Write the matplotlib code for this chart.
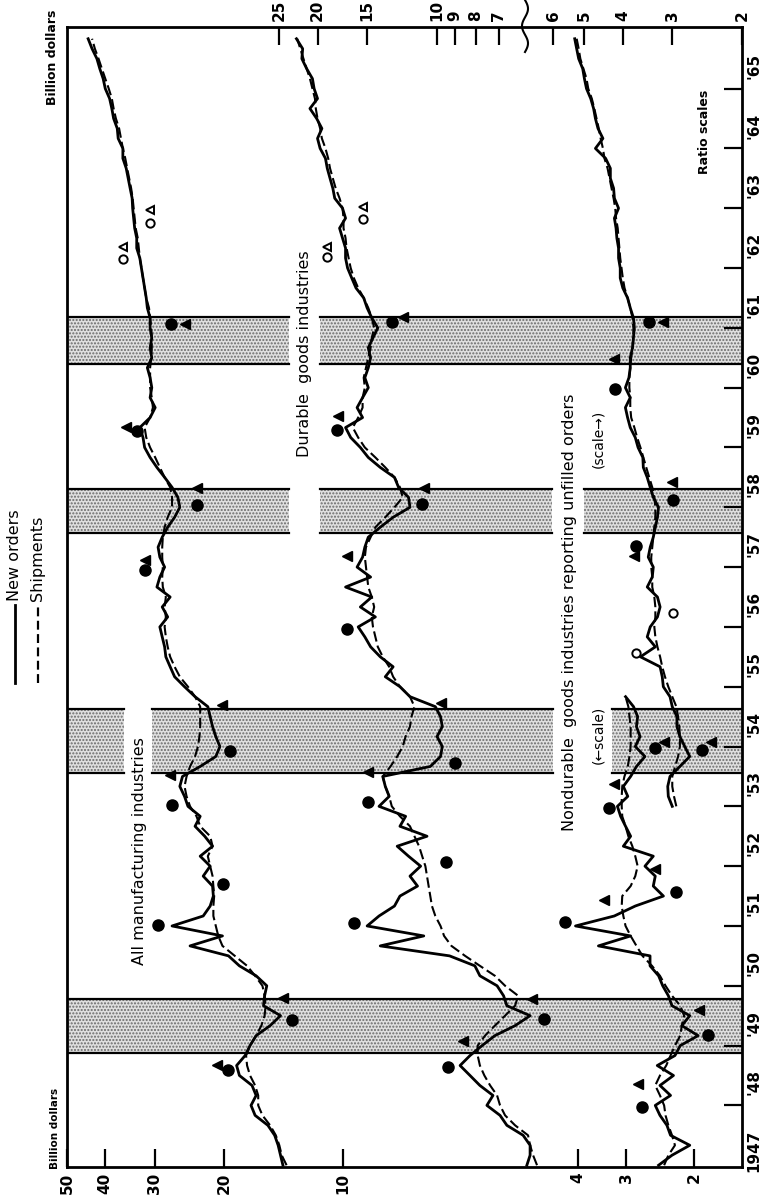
import numpy as np
import matplotlib.pyplot as plt
from matplotlib.ticker import FixedLocator, FixedFormatter, NullLocator
from matplotlib.lines import Line2D

# bimonthly readings, billions of dollars
t_all = 1947 + np.arange(114) / 6
t_nd_left = 1947 + np.arange(48) / 6
t_nd_right = 1953 + np.arange(78) / 6

all_new = [
    14.2, 14.4, 14.6, 14.9, 15.5, 16.7,
    17.1, 16.6, 17.0, 18.3, 18.6, 17.7,
    17.2, 16.6, 15.3, 14.4, 15.9, 15.8,
    15.6, 16.6, 18.3, 19.5, 24.4, 20.2,
    27.1, 22.6, 21.7, 21.3, 21.4, 22.6,
    21.7, 23.0, 21.4, 22.4, 23.7, 23.0,
    24.7, 25.2, 25.9, 25.5, 23.0, 21.0,
    20.5, 21.0, 21.4, 21.7, 22.0, 23.7,
    25.2, 26.7, 27.4, 28.1, 28.3, 28.7,
    29.1, 27.8, 28.7, 27.4, 29.6, 29.1,
    28.3, 29.1, 29.4, 28.7, 27.8, 26.7,
    25.9, 26.2, 27.1, 28.3, 29.6, 30.8,
    31.8, 32.1, 32.7, 30.8, 29.9, 30.8,
    30.5, 30.8, 31.3, 30.5, 30.8, 30.5,
    30.8, 30.8, 31.3, 31.5, 31.8, 32.1,
    32.4, 32.7, 33.3, 33.3, 33.7, 33.9,
    34.1, 34.2, 34.6, 35.0, 35.4, 36.1,
    36.1, 37.1, 37.3, 38.1, 38.5, 39.0,
    40.0, 40.5, 41.3, 42.0, 43.2, 44.2,
]
all_ship = [
    13.9, 14.3, 14.5, 14.8, 15.3, 16.0,
    16.4, 16.4, 16.7, 17.2, 17.5, 17.6,
    17.2, 16.6, 16.1, 15.8, 15.7, 15.8,
    16.0, 16.7, 17.5, 18.8, 20.2, 20.7,
    21.0, 21.3, 21.3, 21.2, 21.3, 21.4,
    21.7, 22.0, 21.4, 21.7, 23.0, 23.5,
    24.4, 24.9, 25.2, 24.9, 24.4, 23.7,
    23.3, 23.1, 23.0, 23.0, 23.0, 23.7,
    24.7, 25.9, 26.7, 27.4, 27.8, 28.1,
    28.3, 28.1, 28.3, 28.1, 28.6, 28.7,
    28.6, 28.7, 28.7, 28.6, 28.3, 27.8,
    27.1, 27.1, 27.4, 28.3, 29.1, 29.9,
    30.8, 31.5, 31.8, 30.8, 30.3, 30.5,
    30.8, 30.8, 30.8, 30.6, 30.5, 30.5,
    30.6, 30.8, 31.0, 31.5, 31.8, 32.1,
    32.4, 32.7, 32.9, 33.1, 33.5, 33.7,
    33.9, 34.1, 34.4, 34.8, 35.2, 35.6,
    36.1, 36.5, 36.9, 37.6, 38.1, 38.5,
    39.2, 40.0, 40.8, 41.6, 42.5, 43.2,
]
dur_new = [
    5.94, 5.83, 5.83, 6.07, 6.67, 6.94,
    7.49, 7.23, 7.80, 8.26, 8.75, 8.26,
    7.70, 7.15, 6.36, 5.83, 6.67, 6.80,
    7.06, 7.80, 8.03, 9.30, 13.9, 10.8,
    15.0, 14.0, 12.8, 12.4, 11.2, 11.7,
    11.0, 11.8, 12.6, 10.6, 12.4, 12.0,
    14.0, 13.2, 13.5, 13.7, 10.4, 9.8,
    9.7, 10.0, 9.7, 9.8, 10.1, 11.7,
    12.4, 13.5, 12.9, 13.9, 14.7, 15.2,
    15.8, 14.3, 15.6, 14.6, 17.0, 14.7,
    15.9, 15.4, 15.2, 14.9, 13.9, 12.9,
    11.7, 11.8, 12.5, 12.8, 13.9, 14.9,
    15.6, 16.5, 17.0, 15.4, 15.9, 15.4,
    14.9, 15.2, 14.9, 14.7, 14.9, 14.5,
    14.1, 14.6, 15.0, 15.3, 16.0, 16.4,
    16.8, 17.0, 17.0, 17.3, 17.6, 17.0,
    17.3, 18.1, 18.3, 18.6, 18.9, 19.1,
    19.7, 20.0, 19.5, 20.1, 20.9, 20.0,
    20.4, 20.6, 21.3, 21.9, 21.8, 22.6,
]
dur_ship = [
    5.60, 5.73, 5.83, 5.90, 6.36, 6.74,
    6.94, 7.06, 7.35, 7.60, 7.80, 7.90,
    7.90, 7.57, 7.15, 6.74, 6.36, 6.25,
    6.74, 7.15, 7.80, 8.50, 9.20, 9.60,
    9.80, 10.1, 10.3, 10.4, 10.5, 10.6,
    10.7, 10.9, 11.1, 11.4, 11.7, 12.4,
    13.0, 13.2, 13.5, 13.7, 13.1, 12.6,
    12.2, 12.0, 11.7, 11.6, 11.4, 11.7,
    12.4, 12.9, 13.2, 13.7, 14.1, 14.3,
    14.5, 14.6, 14.4, 14.6, 14.9, 15.0,
    15.1, 15.2, 15.1, 14.7, 14.3, 13.5,
    12.8, 12.2, 12.4, 12.8, 13.5, 14.3,
    15.2, 15.8, 16.3, 15.8, 15.4, 15.4,
    15.2, 15.3, 15.1, 14.9, 14.7, 14.6,
    14.4, 14.6, 14.9, 15.3, 15.8, 16.2,
    16.5, 16.7, 16.9, 17.0, 17.2, 17.2,
    17.3, 17.6, 18.0, 18.3, 18.6, 18.8,
    19.1, 19.5, 19.7, 20.0, 20.2, 20.3,
    20.6, 20.9, 21.3, 21.7, 22.1, 22.5,
]
# nondurable goods industries reporting unfilled orders, left scale to 1954
nd_left_new = [
    2.47, 2.28, 2.05, 2.30, 2.35, 2.45,
    2.52, 2.30, 2.45, 2.26, 2.49, 2.24,
    2.17, 1.95, 2.15, 2.05, 2.28, 2.33,
    2.41, 2.47, 2.60, 2.60, 3.54, 2.92,
    4.06, 3.22, 2.84, 2.40, 2.55, 2.52,
    2.68, 2.55, 3.05, 2.92, 3.01, 3.10,
    3.16, 2.97, 3.05, 2.92, 2.82, 2.68,
    2.84, 2.76, 2.82, 2.80, 2.87, 3.01,
]
nd_left_ship = [
    2.39, 2.33, 2.24, 2.28, 2.33, 2.37,
    2.39, 2.45, 2.52, 2.45, 2.36, 2.30,
    2.24, 2.17, 2.15, 2.12, 2.17, 2.28,
    2.37, 2.45, 2.57, 2.72, 2.82, 2.92,
    3.01, 3.05, 3.08, 3.07, 2.92, 2.84,
    2.80, 2.84, 2.89, 2.96, 3.01, 3.07,
    3.08, 3.08, 3.07, 3.03, 2.97, 2.94,
    2.92, 2.92, 2.92, 2.94, 2.96, 3.01,
]
# same industries, right scale from 1953
nd_right_new = [
    3.00, 3.07, 3.08, 3.04, 2.87, 2.71,
    2.79, 2.87, 2.92, 2.92, 3.00, 3.04,
    3.16, 3.18, 3.22, 3.61, 3.31, 3.47,
    3.41, 3.27, 3.22, 3.27, 3.47, 3.37,
    3.35, 3.45, 3.41, 3.35, 3.31, 3.27,
    3.25, 3.35, 3.41, 3.47, 3.55, 3.56,
    3.66, 3.72, 3.83, 3.89, 3.94, 3.83,
    3.94, 3.86, 3.83, 3.83, 3.78, 3.76,
    3.74, 3.76, 3.83, 3.89, 4.00, 4.06,
    4.06, 4.10, 4.10, 4.14, 4.16, 4.20,
    4.10, 4.20, 4.22, 4.30, 4.30, 4.42,
    4.69, 4.49, 4.62, 4.69, 4.74, 4.82,
    4.94, 5.00, 5.05, 5.17, 5.23, 5.29,
]
nd_right_ship = [
    2.93, 2.97, 3.00, 3.00, 2.95, 2.90,
    2.87, 2.87, 2.88, 2.90, 2.93, 3.00,
    3.07, 3.13, 3.18, 3.22, 3.27, 3.31,
    3.33, 3.31, 3.31, 3.33, 3.37, 3.37,
    3.39, 3.39, 3.37, 3.35, 3.33, 3.31,
    3.31, 3.33, 3.37, 3.43, 3.49, 3.55,
    3.61, 3.68, 3.74, 3.81, 3.83, 3.83,
    3.85, 3.85, 3.83, 3.81, 3.78, 3.76,
    3.76, 3.78, 3.83, 3.89, 3.96, 4.00,
    4.03, 4.06, 4.08, 4.10, 4.12, 4.16,
    4.18, 4.22, 4.27, 4.32, 4.37, 4.45,
    4.49, 4.55, 4.60, 4.66, 4.72, 4.79,
    4.89, 4.94, 5.03, 5.12, 5.17, 5.23,
]

# turning points: circles = new orders, triangles = shipments
all_circ_t = [1948.60, 1949.43, 1951.02, 1951.70, 1953.03, 1953.93, 1956.95, 1958.03, 1959.27, 1961.07]
all_circ_v = [19.6, 13.5, 29.4, 20.1, 27.1, 19.3, 31.7, 23.5, 33.3, 27.2]
all_tri_t = [1948.68, 1949.80, 1953.53, 1954.70, 1957.12, 1958.32, 1959.35, 1961.07]
all_tri_v = [20.9, 14.2, 27.4, 20.3, 31.7, 23.4, 35.5, 25.2]
all_open_circ_t = [1962.15, 1962.75]
all_open_circ_v = [36.1, 30.8]
all_open_tri_t = [1962.35, 1962.97]
all_open_tri_v = [36.1, 30.8]

dur_circ_t = [1948.65, 1949.45, 1951.05, 1952.07, 1953.07, 1953.73, 1955.97, 1958.05, 1959.30, 1961.10]
dur_circ_v = [9.4, 5.38, 16.2, 9.5, 14.9, 9.0, 16.9, 10.9, 17.9, 13.0]
dur_tri_t = [1949.08, 1949.78, 1953.57, 1954.73, 1957.18, 1958.32, 1959.52, 1961.18]
dur_tri_v = [8.6, 5.77, 14.9, 9.8, 16.9, 10.8, 17.8, 12.2]
dur_open_circ_t = [1962.18, 1962.82]
dur_open_circ_v = [18.9, 15.4]
dur_open_tri_t = [1962.35, 1963.02]
dur_open_tri_v = [18.9, 15.4]

ndl_circ_t = [1947.98, 1949.17, 1951.07, 1951.57, 1952.97, 1953.98]
ndl_circ_v = [2.72, 1.84, 4.33, 2.22, 3.33, 2.52]
ndl_tri_t = [1948.35, 1949.60, 1951.43, 1951.95, 1953.37, 1954.08]
ndl_tri_v = [2.80, 1.94, 3.43, 2.52, 3.23, 2.39]

ndr_circ_t = [1953.95, 1957.35, 1958.12, 1959.98, 1961.10]
ndr_circ_v = [2.52, 3.70, 2.98, 4.18, 3.43]
ndr_tri_t = [1954.07, 1957.18, 1958.43, 1960.48, 1961.10]
ndr_tri_v = [2.40, 3.75, 3.00, 4.22, 3.16]
ndr_open_circ_t = [1955.57, 1956.23]
ndr_open_circ_v = [3.70, 2.98]

recessions = [(1948.87, 1949.78), (1953.55, 1954.62), (1957.57, 1958.30), (1960.40, 1961.18)]

year_labels = ['1947'] + ["'%02d" % y for y in range(48, 66)]

W, H = 761, 1202
fig = plt.figure(figsize=(W / 100, H / 100), dpi=100)
rect = [67 / W, 1 - 1167 / H, 675 / W, 1140 / H]
ax = fig.add_axes(rect)


def overlay(lo, hi):
    a = fig.add_axes(rect, sharey=ax, frameon=False)
    a.set_xscale('log')
    a.set_xlim(lo, hi)
    a.xaxis.set_minor_locator(NullLocator())
    a.tick_params(axis='y', which='both', left=False, right=False,
                  labelleft=False, labelright=False)
    return a


# four ratio scales on one frame
ax.set_xscale('log')
ax.set_xlim(50, 0.977)
ax.xaxis.set_minor_locator(NullLocator())
ax_ndl = overlay(85.0, 1.50)
ax_dur = overlay(85.5, 1.706)
ax_ndr = overlay(101.3, 2.0)

ax.set_ylim(1946.97, 1966.03)

for a, ticks, side in [(ax, [50, 40, 30, 20, 10], 'bottom'),
                       (ax_ndl, [4, 3, 2], 'bottom'),
                       (ax_dur, [25, 20, 15, 10, 9, 8, 7], 'top'),
                       (ax_ndr, [6, 5, 4, 3, 2], 'top')]:
    a.xaxis.set_major_locator(FixedLocator(ticks))
    a.xaxis.set_major_formatter(FixedFormatter([str(v) for v in ticks]))
    a.xaxis.set_ticks_position(side)
    a.tick_params(axis='x', direction='in', length=13, width=1.6,
                  labelrotation=90, pad=4, labelsize=11)
    for lab in a.get_xticklabels():
        lab.set_fontweight('bold')

ax.yaxis.tick_right()
ax.yaxis.set_major_locator(FixedLocator(list(range(1948, 1966))))
ax.yaxis.set_major_formatter(FixedFormatter([''] * 18))
ax.yaxis.set_minor_locator(FixedLocator([y + 0.5 for y in range(1947, 1966)]))
ax.yaxis.set_minor_formatter(FixedFormatter(year_labels))
ax.tick_params(axis='y', which='major', direction='in', length=13, width=1.6)
ax.tick_params(axis='y', which='minor', length=0, pad=3, labelrotation=90, labelsize=11)
for lab in ax.get_yticklabels(minor=True):
    lab.set_fontweight('bold')
for s in ax.spines.values():
    s.set_linewidth(2)

# recession bands with breaks for the labels
gaps = [[], [(0.084, 0.126), (0.72, 0.807)], [(0.329, 0.375), (0.718, 0.766)], [(0.329, 0.375)]]
for (y0, y1), gp in zip(recessions, gaps):
    edges = [0.0] + [g for pair in gp for g in pair] + [1.0]
    for xa, xb in zip(edges[::2], edges[1::2]):
        ax.axhspan(y0, y1, xmin=xa, xmax=xb, facecolor='#e0e0e0', edgecolor='#6a6a6a',
                   hatch='.....', linewidth=0, zorder=0)
        ax.axhline(y0, xa, xb, color='black', lw=1.6, zorder=1)
        ax.axhline(y1, xa, xb, color='black', lw=1.6, zorder=1)

dash = (0, (5, 2))
for a, tt, new, ship in [(ax, t_all, all_new, all_ship),
                         (ax_dur, t_all, dur_new, dur_ship),
                         (ax_ndl, t_nd_left, nd_left_new, nd_left_ship),
                         (ax_ndr, t_nd_right, nd_right_new, nd_right_ship)]:
    a.plot(ship, tt, color='black', lw=1.5, linestyle=dash, zorder=3)
    a.plot(new, tt, color='black', lw=2.0, zorder=4)

mk = dict(linestyle='none', color='black', zorder=5)
for a, ct, cv, tt, tv in [(ax, all_circ_t, all_circ_v, all_tri_t, all_tri_v),
                          (ax_dur, dur_circ_t, dur_circ_v, dur_tri_t, dur_tri_v),
                          (ax_ndl, ndl_circ_t, ndl_circ_v, ndl_tri_t, ndl_tri_v),
                          (ax_ndr, ndr_circ_t, ndr_circ_v, ndr_tri_t, ndr_tri_v)]:
    a.plot(cv, ct, marker='o', markersize=8, **mk)
    a.plot(tv, tt, marker='<', markersize=7, **mk)

op = dict(linestyle='none', color='black', markerfacecolor='white', markeredgewidth=1.4, zorder=5)
ax.plot(all_open_circ_v, all_open_circ_t, marker='o', markersize=6, **op)
ax.plot(all_open_tri_v, all_open_tri_t, marker='<', markersize=6, **op)
ax_dur.plot(dur_open_circ_v, dur_open_circ_t, marker='o', markersize=6, **op)
ax_dur.plot(dur_open_tri_v, dur_open_tri_t, marker='<', markersize=6, **op)
ax_ndr.plot(ndr_open_circ_v, ndr_open_circ_t, marker='o', markersize=6, **op)

tr = ax.get_yaxis_transform()
lab = dict(transform=tr, rotation=90, ha='center', va='center', fontsize=11.5)
ax.text(0.108, 1952.25, 'All manufacturing industries', **lab)
ax.text(0.352, 1960.57, 'Durable  goods industries', **lab)
ax.text(0.745, 1956.25, 'Nondurable  goods industries reporting unfilled orders', **lab)
ax.text(0.787, 1954.2, '(\u2190scale)', transform=tr, rotation=90, ha='center', va='center', fontsize=10)
ax.text(0.787, 1959.15, '(scale\u2192)', transform=tr, rotation=90, ha='center', va='center', fontsize=10)
ax.text(0.945, 1964.28, 'Ratio scales', transform=tr, rotation=90, ha='center', va='center',
        fontsize=9, fontweight='bold')

fig.text(52 / W, 1 - 57 / H, 'Billion dollars', rotation=90, ha='center', va='center',
         fontsize=9, fontweight='bold')
fig.text(55 / W, 1 - 1128 / H, 'Billion dollars', rotation=90, ha='center', va='center',
         fontsize=7.5, fontweight='bold')

# legend
for xp, style, text in [(15, '-', 'New orders'), (38, (0, (4, 2)), 'Shipments')]:
    fig.add_artist(Line2D([xp / W, xp / W], [1 - 683 / H, 1 - 605 / H], transform=fig.transFigure,
                          color='black', lw=2.0 if style == '-' else 1.6, linestyle=style))
    fig.text(xp / W, 1 - 601 / H, text, rotation=90, ha='center', va='bottom', fontsize=11.5)

# scale break on the top edge
yy = np.linspace(0, 52, 60)
fig.add_artist(Line2D((525 + 3 * np.sin(yy / 52 * 3 * np.pi)) / W, 1 - yy / H,
                      transform=fig.transFigure, color='black', lw=1.5))

fig.savefig('out.png', dpi=100)
